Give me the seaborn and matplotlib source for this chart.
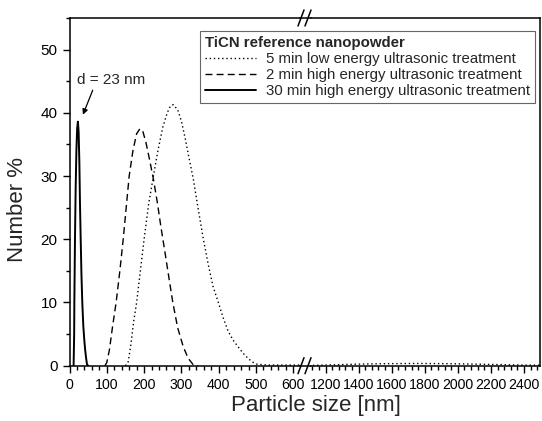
import numpy as np
import pandas as pd
import matplotlib
matplotlib.use("Agg")
import matplotlib.pyplot as plt
from matplotlib.lines import Line2D
from matplotlib.ticker import MultipleLocator
import seaborn as sns

sns.set_style("ticks")
plt.rcParams["font.family"] = ["Liberation Sans", "DejaVu Sans"]

# 5 min low energy ultrasonic treatment (dotted)
low5_x = [150, 157, 165, 172, 180, 190, 200, 212, 225, 237, 250, 262, 270, 278, 290, 300,
          310, 320, 332, 345, 359, 372, 385, 399, 412, 425, 438, 452, 465, 478, 490, 502,
          530, 620, 1100, 1200, 1300, 1400, 1500, 1600, 1700, 1800, 1900, 2000, 2100,
          2200, 2300, 2400, 2500]
low5_y = [0, 0.5, 3.5, 7, 10, 15, 20, 25.5, 30, 34, 37.7, 40, 41, 41.3, 40.5, 38.7,
          36, 33, 29.5, 24.8, 20, 16, 12.5, 10, 7.6, 5.5, 4.1, 3, 2, 1.2, 0.6, 0.25,
          0.1, 0.1, 0.05, 0.1, 0.18, 0.25, 0.3, 0.33, 0.35, 0.35, 0.33, 0.3, 0.25,
          0.2, 0.15, 0.1, 0.08]

# 2 min high energy ultrasonic treatment (dashed)
high2_x = [95, 100, 107, 115, 125, 135, 144, 152, 160, 170, 180, 189, 197, 205, 215,
           225, 235, 245, 255, 265, 277, 290, 305, 318, 331, 345]
high2_y = [0, 0.5, 2.5, 6, 10, 15, 20, 25, 30, 34, 36.7, 37.5, 37, 35.3, 32.5,
           29.5, 26, 22, 18.3, 14.5, 10, 6, 3, 1.2, 0.2, 0]

# 30 min high energy ultrasonic treatment (solid)
high30_x = [11, 12.5, 13, 14.7, 16.5, 18.5, 20.5, 22.5, 24.5, 26.5, 28, 30, 32, 34.3,
            37, 40, 42, 44.5, 47, 50]
high30_y = [0, 5, 10, 20, 28, 34, 37.5, 38.6, 37, 32, 26, 20, 14.5, 10,
            6.3, 3.8, 2.5, 1.2, 0.2, 0]

labels = ["5 min low energy ultrasonic treatment",
          "2 min high energy ultrasonic treatment",
          "30 min high energy ultrasonic treatment"]
styles = [(0, (1, 2)), (0, (5, 3)), "-"]
widths = [1.0, 1.0, 1.4]

series = [(low5_x, low5_y), (high2_x, high2_y), (high30_x, high30_y)]

W, H = 542, 421
fig = plt.figure(figsize=(W / 100, H / 100), dpi=100)

y0, y1 = 365.7, 18
left_px = (69.5, 300)
right_px = (311, 539.5)
ax_l = fig.add_axes([left_px[0] / W, 1 - y0 / H, (left_px[1] - left_px[0]) / W, (y0 - y1) / H])
ax_r = fig.add_axes([right_px[0] / W, 1 - y0 / H, (right_px[1] - right_px[0]) / W, (y0 - y1) / H],
                    sharey=ax_l)

for ax in (ax_l, ax_r):
    for (xs, ys), ls, lw in zip(series, styles, widths):
        df = pd.DataFrame({"size": xs, "num": ys})
        sns.lineplot(data=df, x="size", y="num", ax=ax, color="black",
                     linestyle=ls, linewidth=lw, sort=False, estimator=None)
    ax.set_xlabel("")
    ax.set_ylabel("")
    ax.tick_params(which="major", direction="out", length=5, width=1,
                   color="black", labelcolor="black")
    ax.tick_params(axis="x", labelsize=10.2)
    ax.tick_params(axis="y", labelsize=11)
    ax.tick_params(which="minor", direction="out", length=3, width=1, color="black")
    for s in ax.spines.values():
        s.set_color("black")
        s.set_linewidth(1.1)

ax_l.set_xlim(0, 618)
ax_r.set_xlim(1112, 2494)
ax_l.set_ylim(0, 55)

ax_l.xaxis.set_major_locator(MultipleLocator(100))
ax_l.xaxis.set_minor_locator(MultipleLocator(20))
ax_l.yaxis.set_major_locator(MultipleLocator(10))
ax_l.yaxis.set_minor_locator(MultipleLocator(5))
ax_r.xaxis.set_major_locator(MultipleLocator(200))
ax_r.xaxis.set_minor_locator(MultipleLocator(40))

ax_l.spines["right"].set_visible(False)
ax_r.spines["left"].set_visible(False)
ax_r.tick_params(axis="y", which="both", left=False, labelleft=False)

# break: connect the frame and draw the // marks
top_f, bot_f = 1 - y1 / H, 1 - y0 / H
for yf in (top_f, bot_f):
    fig.add_artist(Line2D([left_px[1] / W, right_px[0] / W], [yf, yf],
                          color="black", lw=1.1, transform=fig.transFigure))
    for xc in (left_px[1] + 1, right_px[0] - 3):
        fig.add_artist(Line2D([(xc - 3) / W, (xc + 3) / W], [yf - 8 / H, yf + 8 / H],
                              color="black", lw=1.1, transform=fig.transFigure))

ax_l.annotate("d = 23 nm", xy=(36, 39.7), xytext=(20, 45.2), fontsize=11,
              va="center", ha="left",
              arrowprops=dict(arrowstyle="-|>", color="black", lw=0.9,
                              shrinkA=0, shrinkB=0, mutation_scale=8,
                              relpos=(0.25, 0)))

fig.text(316 / W, 1 - 406 / H, "Particle size [nm]", ha="center",
         va="center", fontsize=16)
fig.text(18 / W, 1 - 210 / H, "Number %", ha="center", va="center", rotation=90,
         fontsize=16)

handles = [Line2D([], [], color="black", linestyle=ls, linewidth=lw)
           for ls, lw in zip(styles, widths)]
leg = fig.legend(handles, labels, title="TiCN reference nanopowder",
                 loc="upper right", bbox_to_anchor=(535 / W, 1 - 31 / H),
                 fontsize=10.8, title_fontproperties={"weight": "bold", "size": 10.8},
                 alignment="left", fancybox=False, framealpha=1, edgecolor="#666666",
                 handlelength=3.4, handletextpad=0.7, labelspacing=0.15,
                 borderpad=0.3, borderaxespad=0)
leg.get_frame().set_linewidth(0.8)

fig.savefig("out.png", dpi=100)
